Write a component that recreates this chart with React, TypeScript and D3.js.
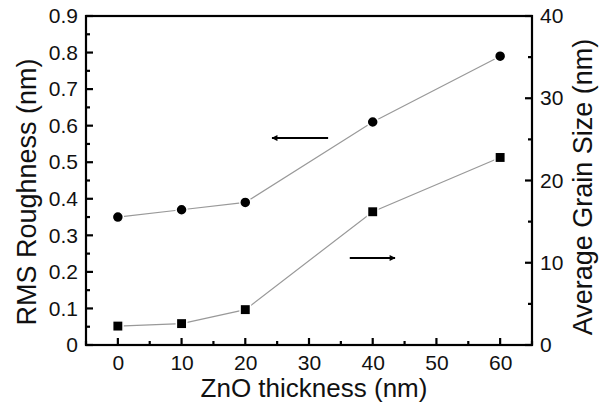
import React, { useRef, useEffect } from "react";
import * as d3 from "d3";

// ZnO thickness (nm)
const thickness = [0, 10, 20, 40, 60];
// RMS roughness (nm), left axis, circles
const roughness = [0.35, 0.37, 0.39, 0.61, 0.79];
// average grain size (nm), right axis, squares
const grainSize = [2.3, 2.6, 4.3, 16.2, 22.8];

const xTicks = [0, 10, 20, 30, 40, 50, 60];
const xMinor = [-5, 5, 15, 25, 35, 45, 55, 65];
const yLeftTicks = [0, 0.1, 0.2, 0.3, 0.4, 0.5, 0.6, 0.7, 0.8, 0.9];
const yLeftMinor = [0.05, 0.15, 0.25, 0.35, 0.45, 0.55, 0.65, 0.75, 0.85];
const yRightTicks = [0, 10, 20, 30, 40];
const yRightMinor = [5, 15, 25, 35];

const App = () => {
  const svgRef = useRef<SVGSVGElement>(null);

  useEffect(() => {
    const w = 604;
    const h = 403;
    const m = { left: 86, right: 72, top: 16, bottom: 58 };
    const font = "'Liberation Sans', Arial, sans-serif";
    const x0 = m.left, x1 = w - m.right, y0 = h - m.bottom, y1 = m.top;

    const svg = d3.select(svgRef.current).attr("width", w).attr("height", h);
    svg.selectAll("*").remove();

    const x = d3.scaleLinear().domain([-5, 65]).range([x0, x1]);
    const yL = d3.scaleLinear().domain([0, 0.9]).range([y0, y1]);
    const yR = d3.scaleLinear().domain([0, 40]).range([y0, y1]);

    // connecting lines
    const lineL = d3.line<number>().x((d, i) => x(thickness[i])).y((d) => yL(d));
    const lineR = d3.line<number>().x((d, i) => x(thickness[i])).y((d) => yR(d));
    svg.append("path").attr("d", lineL(roughness)!).attr("fill", "none").attr("stroke", "#999").attr("stroke-width", 1.2);
    svg.append("path").attr("d", lineR(grainSize)!).attr("fill", "none").attr("stroke", "#999").attr("stroke-width", 1.2);

    // markers
    svg.selectAll(".circ").data(roughness).join("circle")
      .attr("class", "circ")
      .attr("cx", (d, i) => x(thickness[i]))
      .attr("cy", (d) => yL(d))
      .attr("r", 5.5)
      .attr("fill", "#000")
      .attr("stroke", "#fff")
      .attr("stroke-width", 1.5);
    svg.selectAll(".sq").data(grainSize).join("rect")
      .attr("class", "sq")
      .attr("x", (d, i) => x(thickness[i]) - 5.2)
      .attr("y", (d) => yR(d) - 5.2)
      .attr("width", 10.4)
      .attr("height", 10.4)
      .attr("fill", "#000")
      .attr("stroke", "#fff")
      .attr("stroke-width", 1.5);

    // frame
    svg.append("rect")
      .attr("x", x0).attr("y", y1)
      .attr("width", x1 - x0).attr("height", y0 - y1)
      .attr("fill", "none").attr("stroke", "#000").attr("stroke-width", 2.2);

    // tick marks, pointing inward
    const tk = svg.append("g").attr("stroke", "#000").attr("stroke-width", 2.2);
    const xt = [...xTicks.map((v) => ({ v, len: 7 })), ...xMinor.map((v) => ({ v, len: 4 }))];
    tk.selectAll(".xt").data(xt).join("line")
      .attr("x1", (d) => x(d.v)).attr("x2", (d) => x(d.v))
      .attr("y1", y0).attr("y2", (d) => y0 - d.len);
    const lt = [...yLeftTicks.map((v) => ({ v, len: 7 })), ...yLeftMinor.map((v) => ({ v, len: 4 }))];
    tk.selectAll(".lt").data(lt).join("line")
      .attr("x1", x0).attr("x2", (d) => x0 + d.len)
      .attr("y1", (d) => yL(d.v)).attr("y2", (d) => yL(d.v));
    const rt = [...yRightTicks.map((v) => ({ v, len: 7 })), ...yRightMinor.map((v) => ({ v, len: 4 }))];
    tk.selectAll(".rt").data(rt).join("line")
      .attr("x1", x1).attr("x2", (d) => x1 - d.len)
      .attr("y1", (d) => yR(d.v)).attr("y2", (d) => yR(d.v));

    // tick labels through d3 axes (lines hidden, frame drawn above)
    const label = (g: any) => {
      g.select(".domain").remove();
      g.selectAll("line").remove();
      g.selectAll("text").attr("font-family", font).attr("font-size", 21).attr("fill", "#111");
    };
    svg.append("g").attr("transform", `translate(0,${y0})`)
      .call(d3.axisBottom(x).tickValues(xTicks).tickSize(0).tickPadding(10))
      .call(label);
    svg.append("g").attr("transform", `translate(${x0},0)`)
      .call(d3.axisLeft(yL).tickValues(yLeftTicks).tickSize(0).tickPadding(8)
        .tickFormat((d) => (+d === 0 ? "0" : d3.format(".1f")(+d))))
      .call(label);
    svg.append("g").attr("transform", `translate(${x1},0)`)
      .call(d3.axisRight(yR).tickValues(yRightTicks).tickSize(0).tickPadding(8))
      .call(label);

    // axis titles
    svg.append("text")
      .attr("x", 314)
      .attr("y", 397)
      .attr("text-anchor", "middle")
      .attr("font-family", font).attr("font-size", 26).attr("fill", "#111")
      .text("ZnO thickness (nm)");
    svg.append("text")
      .attr("transform", `translate(36,192) rotate(-90)`)
      .attr("text-anchor", "middle")
      .attr("font-family", font).attr("font-size", 27).attr("fill", "#111")
      .text("RMS Roughness (nm)");
    svg.append("text")
      .attr("transform", `translate(592,187) rotate(-90)`)
      .attr("text-anchor", "middle")
      .attr("font-family", font).attr("font-size", 27).attr("fill", "#111")
      .text("Average Grain Size (nm)");

    // arrows pointing to each series' axis
    const defs = svg.append("defs");
    defs.append("marker")
      .attr("id", "ah")
      .attr("viewBox", "0 0 10 10")
      .attr("refX", 9).attr("refY", 5)
      .attr("markerWidth", 11).attr("markerHeight", 6)
      .attr("markerUnits", "userSpaceOnUse")
      .attr("orient", "auto")
      .append("path").attr("d", "M0,0L10,5L0,10z").attr("fill", "#000");
    svg.append("line")
      .attr("x1", x(33)).attr("x2", x(24.2))
      .attr("y1", yL(0.566)).attr("y2", yL(0.566))
      .attr("stroke", "#000").attr("stroke-width", 2)
      .attr("marker-end", "url(#ah)");
    svg.append("line")
      .attr("x1", x(36.4)).attr("x2", x(43.5))
      .attr("y1", yL(0.238)).attr("y2", yL(0.238))
      .attr("stroke", "#000").attr("stroke-width", 2)
      .attr("marker-end", "url(#ah)");
  }, []);

  return (
    <div style={{ position: "absolute", left: 0, top: 0 }}>
      <svg ref={svgRef} style={{ display: "block", background: "#fff" }}></svg>
    </div>
  );
};

export default App;
